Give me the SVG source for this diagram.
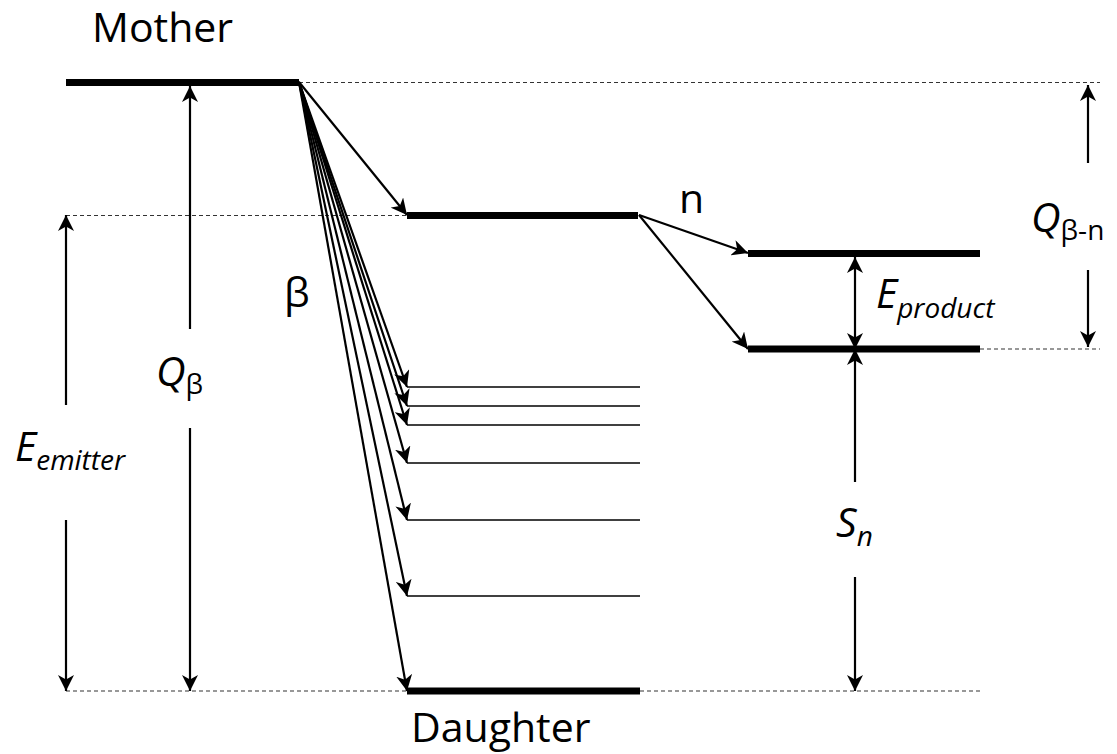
<svg xmlns="http://www.w3.org/2000/svg" width="1117" height="754" viewBox="0 0 1117 754">
<style>
.lvl{stroke:#000;stroke-width:7;fill:none}
.thin{stroke:#000;stroke-width:1.3;fill:none}
.dash{stroke:#333;stroke-width:1.2;stroke-dasharray:4 3;fill:none}
.arr{stroke:#000;stroke-width:2.2;fill:none}
.one{marker-end:url(#ah)}
.two{marker-start:url(#ah);marker-end:url(#ah)}
text{font-family:"Open Sans","Liberation Sans",sans-serif;fill:#000}
.big{font-size:41px}
.it{font-style:italic}
.sub{font-size:28px}
</style>
<defs>
<marker id="ah" viewBox="0 0 16 16" refX="16" refY="8" markerWidth="16" markerHeight="16" markerUnits="userSpaceOnUse" orient="auto-start-reverse">
<path d="M0,0 L16,8 L0,16 L4.5,8 z" fill="#000"/>
</marker>
</defs>
<rect width="1117" height="754" fill="#fff"/>
<g id="guides">
<line class="dash" x1="299" y1="82.5" x2="1100" y2="82.5"/>
<line class="dash" x1="66" y1="215.5" x2="407" y2="215.5"/>
<line class="dash" x1="980" y1="349" x2="1100" y2="349"/>
<line class="dash" x1="66" y1="691" x2="407" y2="691"/>
<line class="dash" x1="640" y1="691" x2="980" y2="691"/>
</g>
<g id="mother">
<line class="lvl" x1="66" y1="82.5" x2="299" y2="82.5"/>
<text class="big" x="92" y="42">Mother</text>
</g>
<g id="emitter-level">
<line class="lvl" x1="407" y1="215.5" x2="638" y2="215.5"/>
</g>
<g id="daughter-excited">
<line class="thin" x1="407" y1="387" x2="640" y2="387"/>
<line class="thin" x1="407" y1="406" x2="640" y2="406"/>
<line class="thin" x1="407" y1="425" x2="640" y2="425"/>
<line class="thin" x1="407" y1="463" x2="640" y2="463"/>
<line class="thin" x1="407" y1="520" x2="640" y2="520"/>
<line class="thin" x1="407" y1="596" x2="640" y2="596"/>
</g>
<g id="daughter">
<line class="lvl" x1="407" y1="691" x2="640" y2="691"/>
<text class="big" x="411" y="742">Daughter</text>
</g>
<g id="product-upper">
<line class="lvl" x1="748" y1="253.5" x2="980" y2="253.5"/>
</g>
<g id="product-lower">
<line class="lvl" x1="748" y1="349" x2="980" y2="349"/>
</g>
<g id="connectors">
<line class="arr one" x1="299" y1="82" x2="407" y2="215"/>
<line class="arr one" x1="299" y1="82" x2="407" y2="387"/>
<line class="arr one" x1="299" y1="82" x2="407" y2="406"/>
<line class="arr one" x1="299" y1="82" x2="407" y2="425"/>
<line class="arr one" x1="299" y1="82" x2="407" y2="463"/>
<line class="arr one" x1="299" y1="82" x2="407" y2="520"/>
<line class="arr one" x1="299" y1="82" x2="407" y2="596"/>
<line class="arr one" x1="299" y1="82" x2="407" y2="691"/>
<line class="arr one" x1="639" y1="215" x2="748" y2="253"/>
<line class="arr one" x1="639" y1="215" x2="748" y2="349"/>
<line class="arr" x1="190" y1="86" x2="190" y2="329" marker-start="url(#ah)"/>
<line class="arr" x1="190" y1="428" x2="190" y2="691" marker-end="url(#ah)"/>
<line class="arr" x1="66" y1="215" x2="66" y2="405" marker-start="url(#ah)"/>
<line class="arr" x1="66" y1="520" x2="66" y2="691" marker-end="url(#ah)"/>
<line class="arr two" x1="855" y1="257" x2="855" y2="349"/>
<line class="arr" x1="855" y1="349" x2="855" y2="482" marker-start="url(#ah)"/>
<line class="arr" x1="855" y1="577" x2="855" y2="691" marker-end="url(#ah)"/>
<line class="arr" x1="1088" y1="85" x2="1088" y2="163" marker-start="url(#ah)"/>
<line class="arr" x1="1088" y1="270" x2="1088" y2="347" marker-end="url(#ah)"/>
</g>
<g id="labels">
<text class="big" x="284" y="307">β</text>
<text class="big" x="679" y="213">n</text>
<text class="big it" x="156" y="386">Q<tspan class="sub" font-style="normal" dy="8">β</tspan></text>
<text class="big it" x="15" y="461">E<tspan class="sub" dy="9">emitter</tspan></text>
<text class="big it" x="876" y="308">E<tspan class="sub" dy="10">product</tspan></text>
<text class="big it" x="836" y="537">S<tspan class="sub" dy="9">n</tspan></text>
<text class="big it" x="1031" y="232">Q<tspan class="sub" font-style="normal" dy="8">β-n</tspan></text>
</g>
</svg>
